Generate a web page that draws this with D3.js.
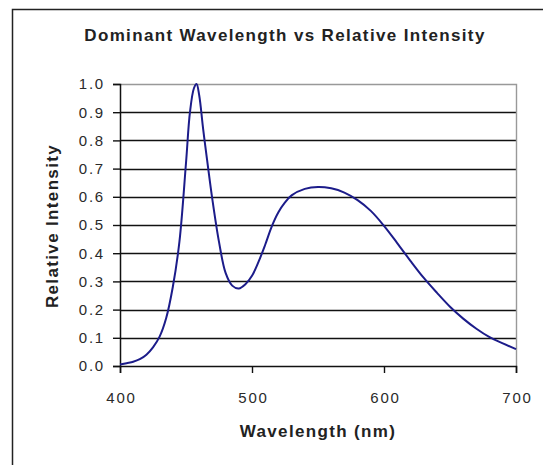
<!DOCTYPE html>
<html>
<head>
<meta charset="utf-8">
<script src="https://cdn.jsdelivr.net/npm/d3@7"></script>
<style>
  html, body { margin: 0; padding: 0; background: #fff; }
  svg { display: block; font-family: "Liberation Sans", Arial, sans-serif; }
</style>
</head>
<body>
<div id="chart"></div>
<script>
// spectrum: wavelength (nm) and relative intensity
const wavelengths = [400, 405, 410, 415, 420, 425, 430, 435, 440, 445, 450, 453, 456, 458, 460, 463, 466, 470, 475, 480, 485, 490, 495, 500, 505, 510, 515, 520, 525, 530, 540, 550, 560, 570, 580, 590, 600, 610, 620, 630, 640, 650, 660, 670, 680, 690, 700];
const intensity = [0.005, 0.010, 0.015, 0.024, 0.040, 0.066, 0.104, 0.170, 0.280, 0.440, 0.720, 0.900, 0.985, 1.000, 0.960, 0.840, 0.730, 0.590, 0.440, 0.330, 0.285, 0.275, 0.290, 0.320, 0.370, 0.430, 0.495, 0.545, 0.580, 0.605, 0.628, 0.635, 0.630, 0.615, 0.588, 0.550, 0.497, 0.436, 0.373, 0.313, 0.260, 0.210, 0.168, 0.132, 0.102, 0.080, 0.060];
const xTicks = [400, 500, 600, 700];
const yTicks = [0, 0.1, 0.2, 0.3, 0.4, 0.5, 0.6, 0.7, 0.8, 0.9, 1.0];

const width = 543;
const height = 465;
const plot = { left: 120, top: 84, right: 516, bottom: 366 };

const svg = d3.select("#chart")
  .append("svg")
  .attr("width", width)
  .attr("height", height);

// outer frame (right and bottom run off the picture)
svg.append("rect")
  .attr("x", 12.5)
  .attr("y", 9.5)
  .attr("width", 600)
  .attr("height", 600)
  .attr("fill", "none")
  .attr("stroke", "#222")
  .attr("stroke-width", 1.5);

const x = d3.scaleLinear().domain([400, 700]).range([plot.left, plot.right]);
const y = d3.scaleLinear().domain([0, 1]).range([plot.bottom, plot.top]);

// grid lines
svg.append("g")
  .selectAll("line")
  .data(yTicks.slice(1, -1))
  .join("line")
  .attr("x1", plot.left)
  .attr("x2", plot.right)
  .attr("y1", (d) => Math.round(y(d)) + 0.5)
  .attr("y2", (d) => Math.round(y(d)) + 0.5)
  .attr("stroke", "#111")
  .attr("stroke-width", 1.4);

// plot area top / right border
svg.append("path")
  .attr("d", `M${plot.left},${plot.top + 0.5}H${plot.right + 0.5}V${plot.bottom}`)
  .attr("fill", "none")
  .attr("stroke", "#999")
  .attr("stroke-width", 1.4);

const yAxis = svg.append("g")
  .attr("transform", `translate(${plot.left},0)`)
  .call(d3.axisLeft(y).tickValues(yTicks).tickFormat(d3.format(".1f")).tickSize(7).tickPadding(8));

const xAxis = svg.append("g")
  .attr("transform", `translate(0,${plot.bottom})`)
  .call(d3.axisBottom(x).tickValues(xTicks).tickFormat(d3.format("d")).tickSize(7).tickPadding(19));

[yAxis, xAxis].forEach((ax) => {
  ax.select(".domain").attr("stroke", "#111").attr("stroke-width", 1.5);
  ax.selectAll(".tick line").attr("stroke", "#111").attr("stroke-width", 1.4);
  ax.selectAll("text")
    .attr("fill", "#2a2a2a")
    .style("font-size", "15px")
    .style("letter-spacing", "1.8px")
    .style("font-family", "'Liberation Sans', Arial, sans-serif");
});
xAxis.selectAll("text").attr("dx", "1px");

// series
const line = d3.line()
  .x((d, i) => x(wavelengths[i]))
  .y((d) => y(d))
  .curve(d3.curveCatmullRom.alpha(0.5));

svg.append("path")
  .datum(intensity)
  .attr("d", line)
  .attr("fill", "none")
  .attr("stroke", "#1c1c8a")
  .attr("stroke-width", 2);

// titles
function title(sel) {
  return sel
    .attr("text-anchor", "middle")
    .attr("font-size", 17)
    .attr("font-weight", "bold")
    .attr("letter-spacing", "1.35px")
    .attr("fill", "#222");
}

svg.append("text")
  .call(title)
  .attr("x", 285)
  .attr("y", 41)
  .text("Dominant Wavelength vs Relative Intensity");

svg.append("text")
  .call(title)
  .attr("x", 318)
  .attr("y", 437)
  .text("Wavelength (nm)");

svg.append("text")
  .call(title)
  .attr("transform", `translate(58,${(plot.top + plot.bottom) / 2 + 1}) rotate(-90)`)
  .text("Relative Intensity");
</script>
</body>
</html>
